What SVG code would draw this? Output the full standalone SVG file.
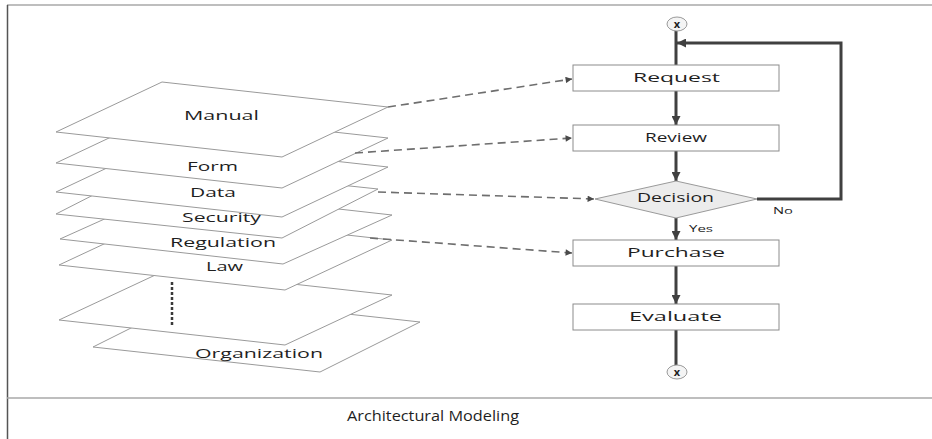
<svg xmlns="http://www.w3.org/2000/svg" width="932" height="439" viewBox="0 0 932 439">
  <style>
    text { font-family: "Open Sans", "Liberation Sans", sans-serif; fill: #1f1f1f; }
    .layer { fill: #ffffff; stroke: #9a9a9a; stroke-width: 1; }
    .lbl { font-size: 12px; text-anchor: middle; }
    .box { fill: #ffffff; stroke: #8c8c8c; stroke-width: 1; }
    .flow { fill: none; stroke: #404040; stroke-width: 3; }
    .dash { fill: none; stroke: #6e6e6e; stroke-width: 1.6; stroke-dasharray: 8 5; }
    .small { font-size: 9px; text-anchor: middle; }
    .frame { fill: none; stroke: #a8a8a8; stroke-width: 1.5; }
    .term { fill: #f4f4f4; stroke: #9a9a9a; stroke-width: 1; }
    .termx { font-size: 11px; font-weight: bold; text-anchor: middle; }
  </style>
  <defs>
    <marker id="arrowFlow" viewBox="0 0 10 10" refX="10" refY="5" markerWidth="3" markerHeight="3" orient="auto" markerUnits="strokeWidth">
      <path d="M0,0 L10,5 L0,10 Z" fill="#404040"/>
    </marker>
    <marker id="arrowDash" viewBox="0 0 10 10" refX="10" refY="5" markerWidth="5" markerHeight="4" orient="auto" markerUnits="strokeWidth">
      <path d="M0,0 L10,5 L0,10 Z" fill="#4a4a4a"/>
    </marker>
  </defs>

  <rect width="932" height="439" fill="#ffffff"/>

  <!-- frame -->
  <line class="frame" x1="7" y1="5" x2="932" y2="5"/>
  <line x1="7.5" y1="5" x2="7.5" y2="439" stroke="#555555" stroke-width="1.5"/>
  <line class="frame" x1="7" y1="398" x2="932" y2="398"/>

  <!-- layer stack, drawn from the bottom up -->
  <g id="layer-organization">
    <polygon class="layer" points="93,347 193,297 420,322 320,372"/>
    <text class="lbl" x="259" y="358" textLength="128" lengthAdjust="spacingAndGlyphs">Organization</text>
  </g>
  <g id="layer-blank">
    <polygon class="layer" points="59,320 166,270 392,295 285,345"/>
    <line x1="172" y1="282" x2="172" y2="325" stroke="#3a3a3a" stroke-width="2.5" stroke-dasharray="3 2"/>
  </g>
  <g id="layer-law">
    <polygon class="layer" points="59,265 166,215 392,240 285,290"/>
    <text class="lbl" x="224.5" y="271" textLength="37" lengthAdjust="spacingAndGlyphs">Law</text>
  </g>
  <g id="layer-regulation">
    <polygon class="layer" points="60,239 169,190 392,215 283,264"/>
    <text class="lbl" x="223" y="247" textLength="106" lengthAdjust="spacingAndGlyphs">Regulation</text>
  </g>
  <g id="layer-security">
    <polygon class="layer" points="56,214 152,165 378,189 282,238"/>
    <text class="lbl" x="221.5" y="222" textLength="79" lengthAdjust="spacingAndGlyphs">Security</text>
  </g>
  <g id="layer-data">
    <polygon class="layer" points="56,192 162,142 388,167 282,217"/>
    <text class="lbl" x="213" y="197" textLength="46" lengthAdjust="spacingAndGlyphs">Data</text>
  </g>
  <g id="layer-form">
    <polygon class="layer" points="56,163 162,113 388,138 282,188"/>
    <text class="lbl" x="212.5" y="171" textLength="51" lengthAdjust="spacingAndGlyphs">Form</text>
  </g>
  <g id="layer-manual">
    <polygon class="layer" points="56,132 162,82 388,107 282,157"/>
    <text class="lbl" x="221.5" y="120" textLength="75" lengthAdjust="spacingAndGlyphs">Manual</text>
  </g>

  <!-- connectors -->
  <g id="connectors">
    <line class="flow" x1="676" y1="31" x2="676" y2="65"/>
    <line class="flow" x1="676" y1="91" x2="676" y2="125" marker-end="url(#arrowFlow)"/>
    <line class="flow" x1="676" y1="151" x2="676" y2="181" marker-end="url(#arrowFlow)"/>
    <line class="flow" x1="676" y1="218" x2="676" y2="240" marker-end="url(#arrowFlow)"/>
    <line class="flow" x1="676" y1="266" x2="676" y2="304" marker-end="url(#arrowFlow)"/>
    <line class="flow" x1="676" y1="330" x2="676" y2="365"/>
    <polyline class="flow" points="757,199 841,199 841,43 677,43" marker-end="url(#arrowFlow)"/>

    <line class="dash" x1="388" y1="107" x2="572" y2="79" marker-end="url(#arrowDash)"/>
    <line class="dash" x1="355" y1="153" x2="572" y2="138" marker-end="url(#arrowDash)"/>
    <line class="dash" x1="378" y1="192" x2="594" y2="199" marker-end="url(#arrowDash)"/>
    <line class="dash" x1="370" y1="238" x2="572" y2="253" marker-end="url(#arrowDash)"/>
  </g>

  <!-- flow nodes -->
  <g id="start">
    <ellipse class="term" cx="677" cy="24" rx="10" ry="7"/>
    <text class="termx" x="677" y="28">x</text>
  </g>
  <g id="request">
    <rect class="box" x="573" y="65" width="206" height="26"/>
    <text class="lbl" x="676.5" y="82" textLength="87" lengthAdjust="spacingAndGlyphs">Request</text>
  </g>
  <g id="review">
    <rect class="box" x="573" y="125" width="206" height="26"/>
    <text class="lbl" x="676" y="142" textLength="62" lengthAdjust="spacingAndGlyphs">Review</text>
  </g>
  <g id="decision">
    <polygon points="595,199 676,181 757,199 676,218" fill="#ececec" stroke="#9a9a9a" stroke-width="1"/>
    <text class="lbl" x="675.5" y="202" textLength="77" lengthAdjust="spacingAndGlyphs" font-size="11">Decision</text>
    <text class="small" x="783" y="214" textLength="20" lengthAdjust="spacingAndGlyphs">No</text>
    <text class="small" x="701" y="232" textLength="24" lengthAdjust="spacingAndGlyphs">Yes</text>
  </g>
  <g id="purchase">
    <rect class="box" x="573" y="240" width="206" height="26"/>
    <text class="lbl" x="676" y="257" textLength="98" lengthAdjust="spacingAndGlyphs">Purchase</text>
  </g>
  <g id="evaluate">
    <rect class="box" x="573" y="304" width="206" height="26"/>
    <text class="lbl" x="675.5" y="321" textLength="93" lengthAdjust="spacingAndGlyphs">Evaluate</text>
  </g>
  <g id="end">
    <ellipse class="term" cx="677" cy="372" rx="10" ry="7"/>
    <text class="termx" x="677" y="376">x</text>
  </g>

  <g id="title">
    <text x="433" y="421" font-size="14" text-anchor="middle" textLength="172" lengthAdjust="spacingAndGlyphs">Architectural Modeling</text>
  </g>
</svg>
